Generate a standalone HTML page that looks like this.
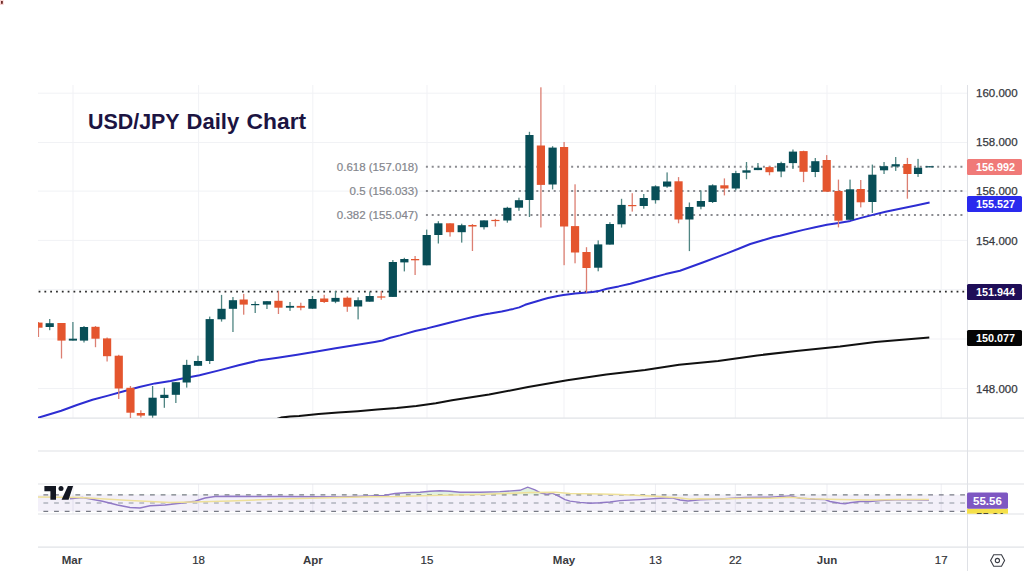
<!DOCTYPE html>
<html><head><meta charset="utf-8"><title>USD/JPY Daily Chart</title>
<style>
html,body{margin:0;padding:0;background:#fff;}
body{width:1024px;height:571px;overflow:hidden;position:relative;font-family:"Liberation Sans","DejaVu Sans",sans-serif;}
svg{position:absolute;left:0;top:0;}
.ax{font-family:"Liberation Sans",sans-serif;font-size:11.5px;fill:#363840;stroke:#363840;stroke-width:0.25px;}
.tx{font-family:"Liberation Sans",sans-serif;font-size:11.5px;fill:#303238;stroke:#303238;stroke-width:0.2px;}
.lb{font-family:"Liberation Sans",sans-serif;font-size:11.5px;fill:#fff;font-weight:bold;}
.fib{font-family:"Liberation Sans",sans-serif;font-size:11.5px;fill:#84868d;stroke:#84868d;stroke-width:0.2px;}
.title{font-family:"Liberation Sans",sans-serif;font-weight:bold;font-size:22px;fill:#1c1442;}
</style></head>
<body>
<svg width="1024" height="571" viewBox="0 0 1024 571">
<rect x="0" y="0" width="1024" height="571" fill="#fff"/>
<rect x="0" y="0" width="3.6" height="5" fill="#f8d4d4"/>
<rect x="1" y="1" width="1.8" height="2.8" fill="#6d2a26"/>
<rect x="72.5" y="85" width="1" height="333" fill="#f1f2f5"/>
<rect x="72.5" y="484" width="1" height="30" fill="#eeeef3"/>
<rect x="198.1" y="85" width="1" height="333" fill="#f1f2f5"/>
<rect x="198.1" y="484" width="1" height="30" fill="#eeeef3"/>
<rect x="312.3" y="85" width="1" height="333" fill="#f1f2f5"/>
<rect x="312.3" y="484" width="1" height="30" fill="#eeeef3"/>
<rect x="426.5" y="85" width="1" height="333" fill="#f1f2f5"/>
<rect x="426.5" y="484" width="1" height="30" fill="#eeeef3"/>
<rect x="563.5" y="85" width="1" height="333" fill="#f1f2f5"/>
<rect x="563.5" y="484" width="1" height="30" fill="#eeeef3"/>
<rect x="654.9" y="85" width="1" height="333" fill="#f1f2f5"/>
<rect x="654.9" y="484" width="1" height="30" fill="#eeeef3"/>
<rect x="734.8" y="85" width="1" height="333" fill="#f1f2f5"/>
<rect x="734.8" y="484" width="1" height="30" fill="#eeeef3"/>
<rect x="826.5" y="85" width="1" height="333" fill="#f1f2f5"/>
<rect x="826.5" y="484" width="1" height="30" fill="#eeeef3"/>
<rect x="940.7" y="85" width="1" height="333" fill="#f1f2f5"/>
<rect x="940.7" y="484" width="1" height="30" fill="#eeeef3"/>
<rect x="38" y="92.7" width="929" height="1" fill="#f1f2f5"/>
<rect x="38" y="142.0" width="929" height="1" fill="#f1f2f5"/>
<rect x="38" y="190.6" width="929" height="1" fill="#f1f2f5"/>
<rect x="38" y="239.9" width="929" height="1" fill="#f1f2f5"/>
<rect x="38" y="289.2" width="929" height="1" fill="#f1f2f5"/>
<rect x="38" y="338.5" width="929" height="1" fill="#f1f2f5"/>
<rect x="38" y="388.0" width="929" height="1" fill="#f1f2f5"/>
<!-- pane separators -->
<g fill="#dfe1e6">
<rect x="38" y="417.5" width="986" height="1.2"/>
<rect x="38" y="450.5" width="986" height="1"/>
<rect x="38" y="483.5" width="986" height="1"/>
<rect x="38" y="513.5" width="986" height="1"/>
<rect x="38" y="546.5" width="986" height="1.2"/>
<rect x="967" y="85" width="1" height="486"/>
</g>
<!-- title -->
<text class="title" y="128.6"><tspan x="87.9" textLength="91.4" lengthAdjust="spacingAndGlyphs">USD/JPY</tspan> <tspan x="186.6" textLength="52.6" lengthAdjust="spacingAndGlyphs">Daily</tspan> <tspan x="246.6" textLength="59.6" lengthAdjust="spacingAndGlyphs">Chart</tspan></text>
<!-- fib lines -->
<path d="M425.90 165.70h2v2h-2zM431.71 165.70h2v2h-2zM437.52 165.70h2v2h-2zM443.33 165.70h2v2h-2zM449.14 165.70h2v2h-2zM454.95 165.70h2v2h-2zM460.76 165.70h2v2h-2zM466.57 165.70h2v2h-2zM472.38 165.70h2v2h-2zM478.19 165.70h2v2h-2zM484.00 165.70h2v2h-2zM489.81 165.70h2v2h-2zM495.62 165.70h2v2h-2zM501.43 165.70h2v2h-2zM507.24 165.70h2v2h-2zM513.05 165.70h2v2h-2zM518.86 165.70h2v2h-2zM524.67 165.70h2v2h-2zM530.48 165.70h2v2h-2zM536.29 165.70h2v2h-2zM542.10 165.70h2v2h-2zM547.91 165.70h2v2h-2zM553.72 165.70h2v2h-2zM559.53 165.70h2v2h-2zM565.34 165.70h2v2h-2zM571.15 165.70h2v2h-2zM576.96 165.70h2v2h-2zM582.77 165.70h2v2h-2zM588.58 165.70h2v2h-2zM594.39 165.70h2v2h-2zM600.20 165.70h2v2h-2zM606.01 165.70h2v2h-2zM611.82 165.70h2v2h-2zM617.63 165.70h2v2h-2zM623.44 165.70h2v2h-2zM629.25 165.70h2v2h-2zM635.06 165.70h2v2h-2zM640.87 165.70h2v2h-2zM646.68 165.70h2v2h-2zM652.49 165.70h2v2h-2zM658.30 165.70h2v2h-2zM664.11 165.70h2v2h-2zM669.92 165.70h2v2h-2zM675.73 165.70h2v2h-2zM681.54 165.70h2v2h-2zM687.35 165.70h2v2h-2zM693.16 165.70h2v2h-2zM698.97 165.70h2v2h-2zM704.78 165.70h2v2h-2zM710.59 165.70h2v2h-2zM716.40 165.70h2v2h-2zM722.21 165.70h2v2h-2zM728.02 165.70h2v2h-2zM733.83 165.70h2v2h-2zM739.64 165.70h2v2h-2zM745.45 165.70h2v2h-2zM751.26 165.70h2v2h-2zM757.07 165.70h2v2h-2zM762.88 165.70h2v2h-2zM768.69 165.70h2v2h-2zM774.50 165.70h2v2h-2zM780.31 165.70h2v2h-2zM786.12 165.70h2v2h-2zM791.93 165.70h2v2h-2zM797.74 165.70h2v2h-2zM803.55 165.70h2v2h-2zM809.36 165.70h2v2h-2zM815.17 165.70h2v2h-2zM820.98 165.70h2v2h-2zM826.79 165.70h2v2h-2zM832.60 165.70h2v2h-2zM838.41 165.70h2v2h-2zM844.22 165.70h2v2h-2zM850.03 165.70h2v2h-2zM855.84 165.70h2v2h-2zM861.65 165.70h2v2h-2zM867.46 165.70h2v2h-2zM873.27 165.70h2v2h-2zM879.08 165.70h2v2h-2zM884.89 165.70h2v2h-2zM890.70 165.70h2v2h-2zM896.51 165.70h2v2h-2zM902.32 165.70h2v2h-2zM908.13 165.70h2v2h-2zM913.94 165.70h2v2h-2zM919.75 165.70h2v2h-2zM925.56 165.70h2v2h-2zM931.37 165.70h2v2h-2zM937.18 165.70h2v2h-2zM942.99 165.70h2v2h-2zM948.80 165.70h2v2h-2zM954.61 165.70h2v2h-2zM960.42 165.70h2v2h-2z" fill="#8a8b90"/>
<path d="M425.90 190.00h2v2h-2zM431.71 190.00h2v2h-2zM437.52 190.00h2v2h-2zM443.33 190.00h2v2h-2zM449.14 190.00h2v2h-2zM454.95 190.00h2v2h-2zM460.76 190.00h2v2h-2zM466.57 190.00h2v2h-2zM472.38 190.00h2v2h-2zM478.19 190.00h2v2h-2zM484.00 190.00h2v2h-2zM489.81 190.00h2v2h-2zM495.62 190.00h2v2h-2zM501.43 190.00h2v2h-2zM507.24 190.00h2v2h-2zM513.05 190.00h2v2h-2zM518.86 190.00h2v2h-2zM524.67 190.00h2v2h-2zM530.48 190.00h2v2h-2zM536.29 190.00h2v2h-2zM542.10 190.00h2v2h-2zM547.91 190.00h2v2h-2zM553.72 190.00h2v2h-2zM559.53 190.00h2v2h-2zM565.34 190.00h2v2h-2zM571.15 190.00h2v2h-2zM576.96 190.00h2v2h-2zM582.77 190.00h2v2h-2zM588.58 190.00h2v2h-2zM594.39 190.00h2v2h-2zM600.20 190.00h2v2h-2zM606.01 190.00h2v2h-2zM611.82 190.00h2v2h-2zM617.63 190.00h2v2h-2zM623.44 190.00h2v2h-2zM629.25 190.00h2v2h-2zM635.06 190.00h2v2h-2zM640.87 190.00h2v2h-2zM646.68 190.00h2v2h-2zM652.49 190.00h2v2h-2zM658.30 190.00h2v2h-2zM664.11 190.00h2v2h-2zM669.92 190.00h2v2h-2zM675.73 190.00h2v2h-2zM681.54 190.00h2v2h-2zM687.35 190.00h2v2h-2zM693.16 190.00h2v2h-2zM698.97 190.00h2v2h-2zM704.78 190.00h2v2h-2zM710.59 190.00h2v2h-2zM716.40 190.00h2v2h-2zM722.21 190.00h2v2h-2zM728.02 190.00h2v2h-2zM733.83 190.00h2v2h-2zM739.64 190.00h2v2h-2zM745.45 190.00h2v2h-2zM751.26 190.00h2v2h-2zM757.07 190.00h2v2h-2zM762.88 190.00h2v2h-2zM768.69 190.00h2v2h-2zM774.50 190.00h2v2h-2zM780.31 190.00h2v2h-2zM786.12 190.00h2v2h-2zM791.93 190.00h2v2h-2zM797.74 190.00h2v2h-2zM803.55 190.00h2v2h-2zM809.36 190.00h2v2h-2zM815.17 190.00h2v2h-2zM820.98 190.00h2v2h-2zM826.79 190.00h2v2h-2zM832.60 190.00h2v2h-2zM838.41 190.00h2v2h-2zM844.22 190.00h2v2h-2zM850.03 190.00h2v2h-2zM855.84 190.00h2v2h-2zM861.65 190.00h2v2h-2zM867.46 190.00h2v2h-2zM873.27 190.00h2v2h-2zM879.08 190.00h2v2h-2zM884.89 190.00h2v2h-2zM890.70 190.00h2v2h-2zM896.51 190.00h2v2h-2zM902.32 190.00h2v2h-2zM908.13 190.00h2v2h-2zM913.94 190.00h2v2h-2zM919.75 190.00h2v2h-2zM925.56 190.00h2v2h-2zM931.37 190.00h2v2h-2zM937.18 190.00h2v2h-2zM942.99 190.00h2v2h-2zM948.80 190.00h2v2h-2zM954.61 190.00h2v2h-2zM960.42 190.00h2v2h-2z" fill="#8a8b90"/>
<path d="M425.90 214.10h2v2h-2zM431.71 214.10h2v2h-2zM437.52 214.10h2v2h-2zM443.33 214.10h2v2h-2zM449.14 214.10h2v2h-2zM454.95 214.10h2v2h-2zM460.76 214.10h2v2h-2zM466.57 214.10h2v2h-2zM472.38 214.10h2v2h-2zM478.19 214.10h2v2h-2zM484.00 214.10h2v2h-2zM489.81 214.10h2v2h-2zM495.62 214.10h2v2h-2zM501.43 214.10h2v2h-2zM507.24 214.10h2v2h-2zM513.05 214.10h2v2h-2zM518.86 214.10h2v2h-2zM524.67 214.10h2v2h-2zM530.48 214.10h2v2h-2zM536.29 214.10h2v2h-2zM542.10 214.10h2v2h-2zM547.91 214.10h2v2h-2zM553.72 214.10h2v2h-2zM559.53 214.10h2v2h-2zM565.34 214.10h2v2h-2zM571.15 214.10h2v2h-2zM576.96 214.10h2v2h-2zM582.77 214.10h2v2h-2zM588.58 214.10h2v2h-2zM594.39 214.10h2v2h-2zM600.20 214.10h2v2h-2zM606.01 214.10h2v2h-2zM611.82 214.10h2v2h-2zM617.63 214.10h2v2h-2zM623.44 214.10h2v2h-2zM629.25 214.10h2v2h-2zM635.06 214.10h2v2h-2zM640.87 214.10h2v2h-2zM646.68 214.10h2v2h-2zM652.49 214.10h2v2h-2zM658.30 214.10h2v2h-2zM664.11 214.10h2v2h-2zM669.92 214.10h2v2h-2zM675.73 214.10h2v2h-2zM681.54 214.10h2v2h-2zM687.35 214.10h2v2h-2zM693.16 214.10h2v2h-2zM698.97 214.10h2v2h-2zM704.78 214.10h2v2h-2zM710.59 214.10h2v2h-2zM716.40 214.10h2v2h-2zM722.21 214.10h2v2h-2zM728.02 214.10h2v2h-2zM733.83 214.10h2v2h-2zM739.64 214.10h2v2h-2zM745.45 214.10h2v2h-2zM751.26 214.10h2v2h-2zM757.07 214.10h2v2h-2zM762.88 214.10h2v2h-2zM768.69 214.10h2v2h-2zM774.50 214.10h2v2h-2zM780.31 214.10h2v2h-2zM786.12 214.10h2v2h-2zM791.93 214.10h2v2h-2zM797.74 214.10h2v2h-2zM803.55 214.10h2v2h-2zM809.36 214.10h2v2h-2zM815.17 214.10h2v2h-2zM820.98 214.10h2v2h-2zM826.79 214.10h2v2h-2zM832.60 214.10h2v2h-2zM838.41 214.10h2v2h-2zM844.22 214.10h2v2h-2zM850.03 214.10h2v2h-2zM855.84 214.10h2v2h-2zM861.65 214.10h2v2h-2zM867.46 214.10h2v2h-2zM873.27 214.10h2v2h-2zM879.08 214.10h2v2h-2zM884.89 214.10h2v2h-2zM890.70 214.10h2v2h-2zM896.51 214.10h2v2h-2zM902.32 214.10h2v2h-2zM908.13 214.10h2v2h-2zM913.94 214.10h2v2h-2zM919.75 214.10h2v2h-2zM925.56 214.10h2v2h-2zM931.37 214.10h2v2h-2zM937.18 214.10h2v2h-2zM942.99 214.10h2v2h-2zM948.80 214.10h2v2h-2zM954.61 214.10h2v2h-2zM960.42 214.10h2v2h-2z" fill="#8a8b90"/>
<path d="M38.60 290.80h1.8v1.8h-1.8zM44.41 290.80h1.8v1.8h-1.8zM50.22 290.80h1.8v1.8h-1.8zM56.03 290.80h1.8v1.8h-1.8zM61.84 290.80h1.8v1.8h-1.8zM67.65 290.80h1.8v1.8h-1.8zM73.46 290.80h1.8v1.8h-1.8zM79.27 290.80h1.8v1.8h-1.8zM85.08 290.80h1.8v1.8h-1.8zM90.89 290.80h1.8v1.8h-1.8zM96.70 290.80h1.8v1.8h-1.8zM102.51 290.80h1.8v1.8h-1.8zM108.32 290.80h1.8v1.8h-1.8zM114.13 290.80h1.8v1.8h-1.8zM119.94 290.80h1.8v1.8h-1.8zM125.75 290.80h1.8v1.8h-1.8zM131.56 290.80h1.8v1.8h-1.8zM137.37 290.80h1.8v1.8h-1.8zM143.18 290.80h1.8v1.8h-1.8zM148.99 290.80h1.8v1.8h-1.8zM154.80 290.80h1.8v1.8h-1.8zM160.61 290.80h1.8v1.8h-1.8zM166.42 290.80h1.8v1.8h-1.8zM172.23 290.80h1.8v1.8h-1.8zM178.04 290.80h1.8v1.8h-1.8zM183.85 290.80h1.8v1.8h-1.8zM189.66 290.80h1.8v1.8h-1.8zM195.47 290.80h1.8v1.8h-1.8zM201.28 290.80h1.8v1.8h-1.8zM207.09 290.80h1.8v1.8h-1.8zM212.90 290.80h1.8v1.8h-1.8zM218.71 290.80h1.8v1.8h-1.8zM224.52 290.80h1.8v1.8h-1.8zM230.33 290.80h1.8v1.8h-1.8zM236.14 290.80h1.8v1.8h-1.8zM241.95 290.80h1.8v1.8h-1.8zM247.76 290.80h1.8v1.8h-1.8zM253.57 290.80h1.8v1.8h-1.8zM259.38 290.80h1.8v1.8h-1.8zM265.19 290.80h1.8v1.8h-1.8zM271.00 290.80h1.8v1.8h-1.8zM276.81 290.80h1.8v1.8h-1.8zM282.62 290.80h1.8v1.8h-1.8zM288.43 290.80h1.8v1.8h-1.8zM294.24 290.80h1.8v1.8h-1.8zM300.05 290.80h1.8v1.8h-1.8zM305.86 290.80h1.8v1.8h-1.8zM311.67 290.80h1.8v1.8h-1.8zM317.48 290.80h1.8v1.8h-1.8zM323.29 290.80h1.8v1.8h-1.8zM329.10 290.80h1.8v1.8h-1.8zM334.91 290.80h1.8v1.8h-1.8zM340.72 290.80h1.8v1.8h-1.8zM346.53 290.80h1.8v1.8h-1.8zM352.34 290.80h1.8v1.8h-1.8zM358.15 290.80h1.8v1.8h-1.8zM363.96 290.80h1.8v1.8h-1.8zM369.77 290.80h1.8v1.8h-1.8zM375.58 290.80h1.8v1.8h-1.8zM381.39 290.80h1.8v1.8h-1.8zM387.20 290.80h1.8v1.8h-1.8zM393.01 290.80h1.8v1.8h-1.8zM398.82 290.80h1.8v1.8h-1.8zM404.63 290.80h1.8v1.8h-1.8zM410.44 290.80h1.8v1.8h-1.8zM416.25 290.80h1.8v1.8h-1.8zM422.06 290.80h1.8v1.8h-1.8zM427.87 290.80h1.8v1.8h-1.8zM433.68 290.80h1.8v1.8h-1.8zM439.49 290.80h1.8v1.8h-1.8zM445.30 290.80h1.8v1.8h-1.8zM451.11 290.80h1.8v1.8h-1.8zM456.92 290.80h1.8v1.8h-1.8zM462.73 290.80h1.8v1.8h-1.8zM468.54 290.80h1.8v1.8h-1.8zM474.35 290.80h1.8v1.8h-1.8zM480.16 290.80h1.8v1.8h-1.8zM485.97 290.80h1.8v1.8h-1.8zM491.78 290.80h1.8v1.8h-1.8zM497.59 290.80h1.8v1.8h-1.8zM503.40 290.80h1.8v1.8h-1.8zM509.21 290.80h1.8v1.8h-1.8zM515.02 290.80h1.8v1.8h-1.8zM520.83 290.80h1.8v1.8h-1.8zM526.64 290.80h1.8v1.8h-1.8zM532.45 290.80h1.8v1.8h-1.8zM538.26 290.80h1.8v1.8h-1.8zM544.07 290.80h1.8v1.8h-1.8zM549.88 290.80h1.8v1.8h-1.8zM555.69 290.80h1.8v1.8h-1.8zM561.50 290.80h1.8v1.8h-1.8zM567.31 290.80h1.8v1.8h-1.8zM573.12 290.80h1.8v1.8h-1.8zM578.93 290.80h1.8v1.8h-1.8zM584.74 290.80h1.8v1.8h-1.8zM590.55 290.80h1.8v1.8h-1.8zM596.36 290.80h1.8v1.8h-1.8zM602.17 290.80h1.8v1.8h-1.8zM607.98 290.80h1.8v1.8h-1.8zM613.79 290.80h1.8v1.8h-1.8zM619.60 290.80h1.8v1.8h-1.8zM625.41 290.80h1.8v1.8h-1.8zM631.22 290.80h1.8v1.8h-1.8zM637.03 290.80h1.8v1.8h-1.8zM642.84 290.80h1.8v1.8h-1.8zM648.65 290.80h1.8v1.8h-1.8zM654.46 290.80h1.8v1.8h-1.8zM660.27 290.80h1.8v1.8h-1.8zM666.08 290.80h1.8v1.8h-1.8zM671.89 290.80h1.8v1.8h-1.8zM677.70 290.80h1.8v1.8h-1.8zM683.51 290.80h1.8v1.8h-1.8zM689.32 290.80h1.8v1.8h-1.8zM695.13 290.80h1.8v1.8h-1.8zM700.94 290.80h1.8v1.8h-1.8zM706.75 290.80h1.8v1.8h-1.8zM712.56 290.80h1.8v1.8h-1.8zM718.37 290.80h1.8v1.8h-1.8zM724.18 290.80h1.8v1.8h-1.8zM729.99 290.80h1.8v1.8h-1.8zM735.80 290.80h1.8v1.8h-1.8zM741.61 290.80h1.8v1.8h-1.8zM747.42 290.80h1.8v1.8h-1.8zM753.23 290.80h1.8v1.8h-1.8zM759.04 290.80h1.8v1.8h-1.8zM764.85 290.80h1.8v1.8h-1.8zM770.66 290.80h1.8v1.8h-1.8zM776.47 290.80h1.8v1.8h-1.8zM782.28 290.80h1.8v1.8h-1.8zM788.09 290.80h1.8v1.8h-1.8zM793.90 290.80h1.8v1.8h-1.8zM799.71 290.80h1.8v1.8h-1.8zM805.52 290.80h1.8v1.8h-1.8zM811.33 290.80h1.8v1.8h-1.8zM817.14 290.80h1.8v1.8h-1.8zM822.95 290.80h1.8v1.8h-1.8zM828.76 290.80h1.8v1.8h-1.8zM834.57 290.80h1.8v1.8h-1.8zM840.38 290.80h1.8v1.8h-1.8zM846.19 290.80h1.8v1.8h-1.8zM852.00 290.80h1.8v1.8h-1.8zM857.81 290.80h1.8v1.8h-1.8zM863.62 290.80h1.8v1.8h-1.8zM869.43 290.80h1.8v1.8h-1.8zM875.24 290.80h1.8v1.8h-1.8zM881.05 290.80h1.8v1.8h-1.8zM886.86 290.80h1.8v1.8h-1.8zM892.67 290.80h1.8v1.8h-1.8zM898.48 290.80h1.8v1.8h-1.8zM904.29 290.80h1.8v1.8h-1.8zM910.10 290.80h1.8v1.8h-1.8zM915.91 290.80h1.8v1.8h-1.8zM921.72 290.80h1.8v1.8h-1.8zM927.53 290.80h1.8v1.8h-1.8zM933.34 290.80h1.8v1.8h-1.8zM939.15 290.80h1.8v1.8h-1.8zM944.96 290.80h1.8v1.8h-1.8zM950.77 290.80h1.8v1.8h-1.8zM956.58 290.80h1.8v1.8h-1.8zM962.39 290.80h1.8v1.8h-1.8z" fill="#2c2c2c"/>
<text class="fib" x="418" y="170.8" text-anchor="end">0.618 (157.018)</text>
<text class="fib" x="418" y="195.1" text-anchor="end">0.5 (156.033)</text>
<text class="fib" x="418" y="219.2" text-anchor="end">0.382 (155.047)</text>
<!-- MAs -->
<svg x="38" y="85" width="929" height="333" viewBox="38 85 929 333" overflow="hidden">
<polyline points="272.0,420.6 281.0,417.6 290.0,416.6 299.1,415.9 318.6,413.9 338.1,412.6 357.7,411.2 377.2,409.6 396.7,408.1 416.3,406.1 435.8,403.2 452.0,400.3 489.1,394.5 528.1,387.1 567.2,380.3 606.3,374.4 645.0,370.0 679.1,364.8 718.1,360.9 757.2,355.4 796.3,351.1 840.0,346.6 875.4,342.1 929.3,337.6" fill="none" stroke="#111" stroke-width="2" stroke-linejoin="round"/>
<polyline points="37.8,417.8 45.6,415.5 61.3,410.8 76.9,405.0 92.5,399.8 108.1,395.6 123.8,391.3 139.4,387.0 155.0,383.4 170.6,381.1 180.0,379.0 199.5,375.3 219.1,370.4 238.6,365.3 258.1,360.6 277.7,357.7 297.2,354.8 316.7,351.5 335.6,348.3 351.2,345.8 366.9,343.2 374.7,341.9 382.5,340.5 390.3,337.8 400.0,335.4 415.2,331.0 426.9,328.4 438.6,325.5 450.3,322.5 462.0,319.6 473.8,316.7 485.5,314.2 490.0,313.6 501.7,311.5 513.4,308.9 519.3,307.4 525.1,304.8 531.0,303.0 536.9,301.3 542.7,299.5 548.0,298.0 551.7,297.2 557.6,296.0 563.4,295.1 569.3,294.3 575.1,293.5 581.0,292.9 586.9,292.5 592.7,291.9 598.6,291.1 606.9,288.8 618.6,286.4 630.3,283.7 642.0,280.5 653.8,277.3 665.5,274.1 680.0,270.8 703.4,262.2 726.9,253.4 738.6,248.7 750.3,244.0 762.0,240.5 773.8,237.0 780.0,235.7 791.7,232.8 803.4,229.9 815.2,227.2 826.9,224.8 838.6,222.9 850.3,220.9 862.0,217.6 873.8,214.6 885.5,211.7 900.0,208.8 915.8,205.5 929.6,202.5" fill="none" stroke="#2d2dd2" stroke-width="2" stroke-linejoin="round"/>
<rect x="37.79" y="322.0" width="1.3" height="15.0" fill="#dc7f72"/>
<rect x="34.34" y="322.6" width="8.2" height="5.1" fill="#e4552e"/>
<rect x="49.05" y="319.0" width="1.3" height="11.2" fill="#4f8582"/>
<rect x="45.60" y="323.2" width="8.2" height="3.8" fill="#084e57"/>
<rect x="60.85" y="323.0" width="1.3" height="35.5" fill="#dc7f72"/>
<rect x="57.40" y="323.0" width="8.2" height="17.6" fill="#e4552e"/>
<rect x="72.25" y="322.0" width="1.3" height="18.6" fill="#4f8582"/>
<rect x="68.80" y="338.7" width="8.2" height="1.9" fill="#084e57"/>
<rect x="83.35" y="326.0" width="1.3" height="16.5" fill="#4f8582"/>
<rect x="79.90" y="327.0" width="8.2" height="13.6" fill="#084e57"/>
<rect x="94.85" y="326.0" width="1.3" height="21.2" fill="#dc7f72"/>
<rect x="91.40" y="326.8" width="8.2" height="11.9" fill="#e4552e"/>
<rect x="106.45" y="337.5" width="1.3" height="24.0" fill="#dc7f72"/>
<rect x="103.00" y="338.4" width="8.2" height="17.8" fill="#e4552e"/>
<rect x="118.10" y="354.8" width="1.3" height="44.2" fill="#dc7f72"/>
<rect x="114.65" y="355.7" width="8.2" height="32.8" fill="#e4552e"/>
<rect x="129.80" y="386.0" width="1.3" height="32.0" fill="#dc7f72"/>
<rect x="126.35" y="387.8" width="8.2" height="24.9" fill="#e4552e"/>
<rect x="140.20" y="410.3" width="1.3" height="7.2" fill="#dc7f72"/>
<rect x="136.75" y="413.0" width="8.2" height="2.6" fill="#e4552e"/>
<rect x="151.95" y="386.0" width="1.3" height="31.7" fill="#4f8582"/>
<rect x="148.50" y="397.7" width="8.2" height="17.9" fill="#084e57"/>
<rect x="163.70" y="387.8" width="1.3" height="20.0" fill="#4f8582"/>
<rect x="160.25" y="394.8" width="8.2" height="3.2" fill="#084e57"/>
<rect x="175.20" y="382.2" width="1.3" height="20.8" fill="#4f8582"/>
<rect x="171.75" y="382.2" width="8.2" height="12.6" fill="#084e57"/>
<rect x="186.05" y="359.8" width="1.3" height="27.8" fill="#4f8582"/>
<rect x="182.60" y="364.9" width="8.2" height="17.6" fill="#084e57"/>
<rect x="197.35" y="355.7" width="1.3" height="10.1" fill="#4f8582"/>
<rect x="193.90" y="361.0" width="8.2" height="4.8" fill="#084e57"/>
<rect x="209.05" y="316.6" width="1.3" height="47.4" fill="#4f8582"/>
<rect x="205.60" y="319.1" width="8.2" height="41.9" fill="#084e57"/>
<rect x="220.90" y="294.9" width="1.3" height="26.7" fill="#4f8582"/>
<rect x="217.45" y="308.8" width="8.2" height="10.5" fill="#084e57"/>
<rect x="232.30" y="297.0" width="1.3" height="35.0" fill="#4f8582"/>
<rect x="228.85" y="300.2" width="8.2" height="8.6" fill="#084e57"/>
<rect x="243.05" y="293.9" width="1.3" height="20.8" fill="#dc7f72"/>
<rect x="239.60" y="299.5" width="8.2" height="5.1" fill="#e4552e"/>
<rect x="254.55" y="301.4" width="1.3" height="11.6" fill="#4f8582"/>
<rect x="251.10" y="304.0" width="8.2" height="1.2" fill="#084e57"/>
<rect x="266.30" y="301.2" width="1.3" height="7.8" fill="#4f8582"/>
<rect x="262.85" y="301.2" width="8.2" height="3.4" fill="#084e57"/>
<rect x="277.80" y="291.1" width="1.3" height="22.9" fill="#dc7f72"/>
<rect x="274.35" y="300.8" width="8.2" height="6.9" fill="#e4552e"/>
<rect x="289.35" y="302.0" width="1.3" height="8.9" fill="#4f8582"/>
<rect x="285.90" y="305.9" width="8.2" height="1.8" fill="#084e57"/>
<rect x="300.15" y="302.7" width="1.3" height="7.6" fill="#dc7f72"/>
<rect x="296.70" y="305.9" width="8.2" height="1.8" fill="#e4552e"/>
<rect x="311.80" y="296.0" width="1.3" height="12.7" fill="#4f8582"/>
<rect x="308.35" y="299.0" width="8.2" height="9.7" fill="#084e57"/>
<rect x="323.55" y="294.8" width="1.3" height="8.2" fill="#dc7f72"/>
<rect x="320.10" y="298.5" width="8.2" height="3.5" fill="#e4552e"/>
<rect x="334.85" y="291.0" width="1.3" height="12.2" fill="#4f8582"/>
<rect x="331.40" y="297.9" width="8.2" height="3.8" fill="#084e57"/>
<rect x="346.65" y="296.4" width="1.3" height="15.4" fill="#dc7f72"/>
<rect x="343.20" y="297.7" width="8.2" height="9.0" fill="#e4552e"/>
<rect x="357.45" y="297.3" width="1.3" height="22.1" fill="#4f8582"/>
<rect x="354.00" y="300.2" width="8.2" height="6.3" fill="#084e57"/>
<rect x="369.05" y="291.6" width="1.3" height="10.1" fill="#4f8582"/>
<rect x="365.60" y="296.0" width="8.2" height="5.7" fill="#084e57"/>
<rect x="380.60" y="291.0" width="1.3" height="8.8" fill="#dc7f72"/>
<rect x="377.15" y="296.4" width="8.2" height="1.2" fill="#e4552e"/>
<rect x="392.20" y="260.0" width="1.3" height="36.9" fill="#4f8582"/>
<rect x="388.75" y="262.0" width="8.2" height="34.9" fill="#084e57"/>
<rect x="403.70" y="257.8" width="1.3" height="13.6" fill="#4f8582"/>
<rect x="400.25" y="259.0" width="8.2" height="3.4" fill="#084e57"/>
<rect x="414.45" y="256.0" width="1.3" height="19.0" fill="#dc7f72"/>
<rect x="411.00" y="259.0" width="8.2" height="1.3" fill="#e4552e"/>
<rect x="426.05" y="229.6" width="1.3" height="35.7" fill="#4f8582"/>
<rect x="422.60" y="235.0" width="8.2" height="30.3" fill="#084e57"/>
<rect x="437.70" y="221.2" width="1.3" height="22.3" fill="#4f8582"/>
<rect x="434.25" y="223.3" width="8.2" height="11.7" fill="#084e57"/>
<rect x="449.40" y="223.3" width="1.3" height="13.3" fill="#dc7f72"/>
<rect x="445.95" y="223.3" width="8.2" height="8.9" fill="#e4552e"/>
<rect x="461.05" y="223.7" width="1.3" height="18.9" fill="#4f8582"/>
<rect x="457.60" y="225.2" width="8.2" height="7.0" fill="#084e57"/>
<rect x="471.80" y="224.0" width="1.3" height="27.0" fill="#dc7f72"/>
<rect x="468.35" y="225.0" width="8.2" height="1.5" fill="#e4552e"/>
<rect x="483.35" y="220.4" width="1.3" height="9.1" fill="#4f8582"/>
<rect x="479.90" y="220.4" width="8.2" height="6.8" fill="#084e57"/>
<rect x="494.75" y="218.9" width="1.3" height="7.7" fill="#dc7f72"/>
<rect x="491.30" y="219.9" width="8.2" height="1.2" fill="#e4552e"/>
<rect x="506.70" y="206.8" width="1.3" height="15.9" fill="#4f8582"/>
<rect x="503.25" y="207.8" width="8.2" height="12.7" fill="#084e57"/>
<rect x="518.30" y="197.7" width="1.3" height="13.1" fill="#4f8582"/>
<rect x="514.85" y="200.2" width="8.2" height="7.5" fill="#084e57"/>
<rect x="528.80" y="131.8" width="1.3" height="85.2" fill="#4f8582"/>
<rect x="525.35" y="135.0" width="8.2" height="65.0" fill="#084e57"/>
<rect x="540.25" y="87.3" width="1.3" height="140.2" fill="#dc7f72"/>
<rect x="536.80" y="145.5" width="8.2" height="39.4" fill="#e4552e"/>
<rect x="551.95" y="146.2" width="1.3" height="43.2" fill="#4f8582"/>
<rect x="548.50" y="147.6" width="8.2" height="36.9" fill="#084e57"/>
<rect x="563.45" y="142.0" width="1.3" height="123.2" fill="#dc7f72"/>
<rect x="560.00" y="147.0" width="8.2" height="79.5" fill="#e4552e"/>
<rect x="574.40" y="184.3" width="1.3" height="79.0" fill="#dc7f72"/>
<rect x="570.95" y="226.1" width="8.2" height="26.4" fill="#e4552e"/>
<rect x="585.85" y="247.2" width="1.3" height="45.5" fill="#dc7f72"/>
<rect x="582.40" y="252.0" width="8.2" height="16.0" fill="#e4552e"/>
<rect x="597.55" y="240.4" width="1.3" height="30.9" fill="#4f8582"/>
<rect x="594.10" y="244.4" width="8.2" height="23.3" fill="#084e57"/>
<rect x="609.25" y="222.2" width="1.3" height="22.4" fill="#4f8582"/>
<rect x="605.80" y="224.0" width="8.2" height="20.6" fill="#084e57"/>
<rect x="620.90" y="198.8" width="1.3" height="28.8" fill="#4f8582"/>
<rect x="617.45" y="204.9" width="8.2" height="19.4" fill="#084e57"/>
<rect x="631.60" y="193.2" width="1.3" height="18.4" fill="#dc7f72"/>
<rect x="628.15" y="205.0" width="8.2" height="1.2" fill="#e4552e"/>
<rect x="643.10" y="194.0" width="1.3" height="14.7" fill="#4f8582"/>
<rect x="639.65" y="198.0" width="8.2" height="8.0" fill="#084e57"/>
<rect x="654.85" y="185.3" width="1.3" height="18.3" fill="#4f8582"/>
<rect x="651.40" y="186.3" width="8.2" height="13.9" fill="#084e57"/>
<rect x="666.45" y="172.4" width="1.3" height="15.4" fill="#4f8582"/>
<rect x="663.00" y="181.5" width="8.2" height="5.1" fill="#084e57"/>
<rect x="677.90" y="177.1" width="1.3" height="46.2" fill="#dc7f72"/>
<rect x="674.45" y="181.3" width="8.2" height="38.2" fill="#e4552e"/>
<rect x="688.75" y="202.5" width="1.3" height="48.6" fill="#4f8582"/>
<rect x="685.30" y="207.0" width="8.2" height="12.5" fill="#084e57"/>
<rect x="700.25" y="190.4" width="1.3" height="18.9" fill="#4f8582"/>
<rect x="696.80" y="201.0" width="8.2" height="5.7" fill="#084e57"/>
<rect x="711.95" y="184.3" width="1.3" height="18.7" fill="#4f8582"/>
<rect x="708.50" y="185.3" width="8.2" height="16.7" fill="#084e57"/>
<rect x="723.75" y="178.4" width="1.3" height="17.0" fill="#dc7f72"/>
<rect x="720.30" y="185.3" width="8.2" height="3.2" fill="#e4552e"/>
<rect x="735.15" y="170.8" width="1.3" height="19.6" fill="#4f8582"/>
<rect x="731.70" y="173.1" width="8.2" height="15.4" fill="#084e57"/>
<rect x="745.85" y="162.0" width="1.3" height="17.2" fill="#4f8582"/>
<rect x="742.40" y="170.3" width="8.2" height="2.4" fill="#084e57"/>
<rect x="757.30" y="163.0" width="1.3" height="7.1" fill="#4f8582"/>
<rect x="753.85" y="167.7" width="8.2" height="2.4" fill="#084e57"/>
<rect x="768.85" y="165.9" width="1.3" height="9.4" fill="#dc7f72"/>
<rect x="765.40" y="167.1" width="8.2" height="5.1" fill="#e4552e"/>
<rect x="780.50" y="161.7" width="1.3" height="15.5" fill="#4f8582"/>
<rect x="777.05" y="163.1" width="8.2" height="8.4" fill="#084e57"/>
<rect x="792.30" y="149.5" width="1.3" height="19.5" fill="#4f8582"/>
<rect x="788.85" y="151.6" width="8.2" height="11.5" fill="#084e57"/>
<rect x="802.90" y="150.7" width="1.3" height="31.4" fill="#dc7f72"/>
<rect x="799.45" y="151.1" width="8.2" height="20.7" fill="#e4552e"/>
<rect x="814.65" y="158.0" width="1.3" height="19.1" fill="#4f8582"/>
<rect x="811.20" y="161.2" width="8.2" height="10.8" fill="#084e57"/>
<rect x="826.05" y="155.1" width="1.3" height="36.6" fill="#dc7f72"/>
<rect x="822.60" y="160.0" width="8.2" height="31.7" fill="#e4552e"/>
<rect x="837.80" y="179.6" width="1.3" height="47.8" fill="#dc7f72"/>
<rect x="834.35" y="191.0" width="8.2" height="29.7" fill="#e4552e"/>
<rect x="849.40" y="179.6" width="1.3" height="40.2" fill="#4f8582"/>
<rect x="845.95" y="189.3" width="8.2" height="30.5" fill="#084e57"/>
<rect x="860.10" y="180.0" width="1.3" height="27.4" fill="#dc7f72"/>
<rect x="856.65" y="189.0" width="8.2" height="13.3" fill="#e4552e"/>
<rect x="871.70" y="164.6" width="1.3" height="48.3" fill="#4f8582"/>
<rect x="868.25" y="174.7" width="8.2" height="27.3" fill="#084e57"/>
<rect x="883.40" y="162.0" width="1.3" height="12.0" fill="#4f8582"/>
<rect x="879.95" y="166.2" width="8.2" height="4.1" fill="#084e57"/>
<rect x="895.05" y="157.0" width="1.3" height="13.9" fill="#4f8582"/>
<rect x="891.60" y="164.2" width="8.2" height="2.3" fill="#084e57"/>
<rect x="906.75" y="157.9" width="1.3" height="40.8" fill="#dc7f72"/>
<rect x="903.30" y="164.0" width="8.2" height="10.0" fill="#e4552e"/>
<rect x="917.40" y="158.9" width="1.3" height="18.0" fill="#4f8582"/>
<rect x="913.95" y="167.7" width="8.2" height="6.3" fill="#084e57"/>
<rect x="929.00" y="166.2" width="1.3" height="1.0" fill="#4f8582"/>
<rect x="925.55" y="166.2" width="8.2" height="1.2" fill="#084e57"/>
</svg>
<!-- RSI pane -->
<rect x="38" y="494.8" width="929" height="16.5" fill="#7e57c2" fill-opacity="0.09"/>
<line x1="43.4" y1="494.8" x2="967" y2="494.8" stroke="#787b86" stroke-width="1.3" stroke-dasharray="4.8 5.86"/>
<line x1="43.4" y1="503.0" x2="967" y2="503.0" stroke="#b0b3bd" stroke-width="1.3" stroke-dasharray="4.8 5.86"/>
<line x1="43.4" y1="511.3" x2="967" y2="511.3" stroke="#787b86" stroke-width="1.3" stroke-dasharray="4.8 5.86"/>
<clipPath id="ob"><rect x="38" y="480" width="929" height="14.8"/></clipPath>
<polygon clip-path="url(#ob)" points="70.0,498.7 82.5,497.5 102.5,501.2 117.5,505.0 130.0,507.5 140.0,508.0 150.0,505.7 165.0,505.0 180.0,503.2 195.0,501.2 205.0,498.0 215.0,496.5 230.0,496.2 255.0,496.5 280.0,496.5 342.0,497.0 370.0,496.0 384.0,495.4 395.0,493.5 405.0,492.8 420.0,492.2 430.0,491.3 440.0,490.7 450.0,491.3 460.0,492.2 480.0,492.2 500.0,491.6 520.0,490.3 527.7,487.2 535.0,489.8 541.0,493.0 547.0,494.2 552.0,493.2 556.0,494.8 560.0,496.8 565.0,499.6 570.0,501.1 580.0,502.4 590.0,503.3 600.0,502.8 610.0,502.0 620.0,500.6 640.0,499.6 660.0,498.3 672.0,497.9 680.0,500.0 688.0,501.0 700.0,499.8 720.0,499.0 745.0,497.5 770.0,497.2 790.0,495.9 800.0,498.3 815.0,499.3 825.0,499.6 830.0,501.5 840.0,503.3 845.0,503.9 850.0,502.8 860.0,501.5 870.0,501.5 880.0,500.6 890.0,500.0 900.0,499.6 929.0,500.0 929,494.8 70,494.8" fill="#4caf50" fill-opacity="0.18"/>
<polyline points="70.0,498.7 82.5,497.5 102.5,501.2 117.5,505.0 130.0,507.5 140.0,508.0 150.0,505.7 165.0,505.0 180.0,503.2 195.0,501.2 205.0,498.0 215.0,496.5 230.0,496.2 255.0,496.5 280.0,496.5 342.0,497.0 370.0,496.0 384.0,495.4 395.0,493.5 405.0,492.8 420.0,492.2 430.0,491.3 440.0,490.7 450.0,491.3 460.0,492.2 480.0,492.2 500.0,491.6 520.0,490.3 527.7,487.2 535.0,489.8 541.0,493.0 547.0,494.2 552.0,493.2 556.0,494.8 560.0,496.8 565.0,499.6 570.0,501.1 580.0,502.4 590.0,503.3 600.0,502.8 610.0,502.0 620.0,500.6 640.0,499.6 660.0,498.3 672.0,497.9 680.0,500.0 688.0,501.0 700.0,499.8 720.0,499.0 745.0,497.5 770.0,497.2 790.0,495.9 800.0,498.3 815.0,499.3 825.0,499.6 830.0,501.5 840.0,503.3 845.0,503.9 850.0,502.8 860.0,501.5 870.0,501.5 880.0,500.6 890.0,500.0 900.0,499.6 929.0,500.0" fill="none" stroke="#9179c6" stroke-width="1.4"/>
<polyline points="38.0,497.0 80.0,497.5 130.0,500.5 170.0,502.5 192.5,502.0 230.0,501.0 280.0,499.0 340.0,497.5 370.0,496.8 400.0,496.5 430.0,495.5 480.0,494.5 530.0,492.5 555.0,492.2 570.0,493.5 600.0,494.0 620.0,494.5 640.0,495.5 660.0,496.5 680.0,498.0 690.0,499.3 700.0,498.7 720.0,499.0 745.0,498.3 770.0,498.3 790.0,497.2 810.0,498.7 840.0,499.6 870.0,500.1 900.0,499.6 929.0,499.6" fill="none" stroke="#eee09a" stroke-width="1.5"/>
<!-- TV logo -->
<g fill="#131722">
<path d="M44.4 486h11.6v13.7h-5.6v-8.4h-6z"/>
<circle cx="61" cy="488.4" r="2.5"/>
<path d="M67.9 486h5.2l-4.5 13.7h-7z"/>
</g>
<!-- price axis labels -->
<text class="ax" x="976" y="96.8">160.000</text>
<text class="ax" x="976" y="146.2">158.000</text>
<text class="ax" x="976" y="195.2">156.000</text>
<text class="ax" x="976" y="244.8">154.000</text>
<text class="ax" x="976" y="393">148.000</text>
<rect x="967" y="159" width="55" height="16" rx="1.5" fill="#f07a78"/>
<text class="lb" x="976" y="171.3" textLength="39" lengthAdjust="spacingAndGlyphs">156.992</text>
<rect x="967" y="196" width="55" height="16" rx="1.5" fill="#2a2aee"/>
<text class="lb" x="976" y="208.3" textLength="39" lengthAdjust="spacingAndGlyphs">155.527</text>
<rect x="967" y="284" width="55" height="16" rx="1.5" fill="#1f0e58"/>
<text class="lb" x="976" y="296.3" textLength="39" lengthAdjust="spacingAndGlyphs">151.944</text>
<rect x="967" y="330" width="55" height="16" rx="1.5" fill="#050505"/>
<text class="lb" x="976" y="342.3" textLength="39" lengthAdjust="spacingAndGlyphs">150.077</text>
<clipPath id="yl"><rect x="967" y="508.7" width="41" height="5"/></clipPath>
<rect x="967" y="508.7" width="41" height="5" fill="#f5e04a"/>
<text clip-path="url(#yl)" x="976" y="520.6" font-family="Liberation Sans,sans-serif" font-weight="bold" font-size="11.5" fill="#131722">55.21</text>
<rect x="967" y="492.5" width="41" height="16.2" rx="1.5" fill="#7e57c2"/>
<text class="lb" x="973" y="504.8">55.56</text>
<!-- time axis -->
<text class="tx" x="72" y="564" text-anchor="middle" font-weight="bold" style="fill:#3a3b40;stroke:none">Mar</text>
<text class="tx" x="198.6" y="564" text-anchor="middle">18</text>
<text class="tx" x="312.8" y="564" text-anchor="middle" font-weight="bold" style="fill:#3a3b40;stroke:none">Apr</text>
<text class="tx" x="427" y="564" text-anchor="middle">15</text>
<text class="tx" x="564" y="564" text-anchor="middle" font-weight="bold" style="fill:#3a3b40;stroke:none">May</text>
<text class="tx" x="655.4" y="564" text-anchor="middle">13</text>
<text class="tx" x="735.3" y="564" text-anchor="middle">22</text>
<text class="tx" x="827" y="564" text-anchor="middle" font-weight="bold" style="fill:#3a3b40;stroke:none">Jun</text>
<text class="tx" x="941.2" y="564" text-anchor="middle">17</text>
<!-- settings icon -->
<g fill="none" stroke="#3a3d45" stroke-width="1.1">
<path d="M990.6 560.5l3.1-5.8h7.8l3.1 5.8-3.1 5.8h-7.8z"/>
<circle cx="997.4" cy="560.5" r="2.1"/>
</g>
</svg>
</body></html>
